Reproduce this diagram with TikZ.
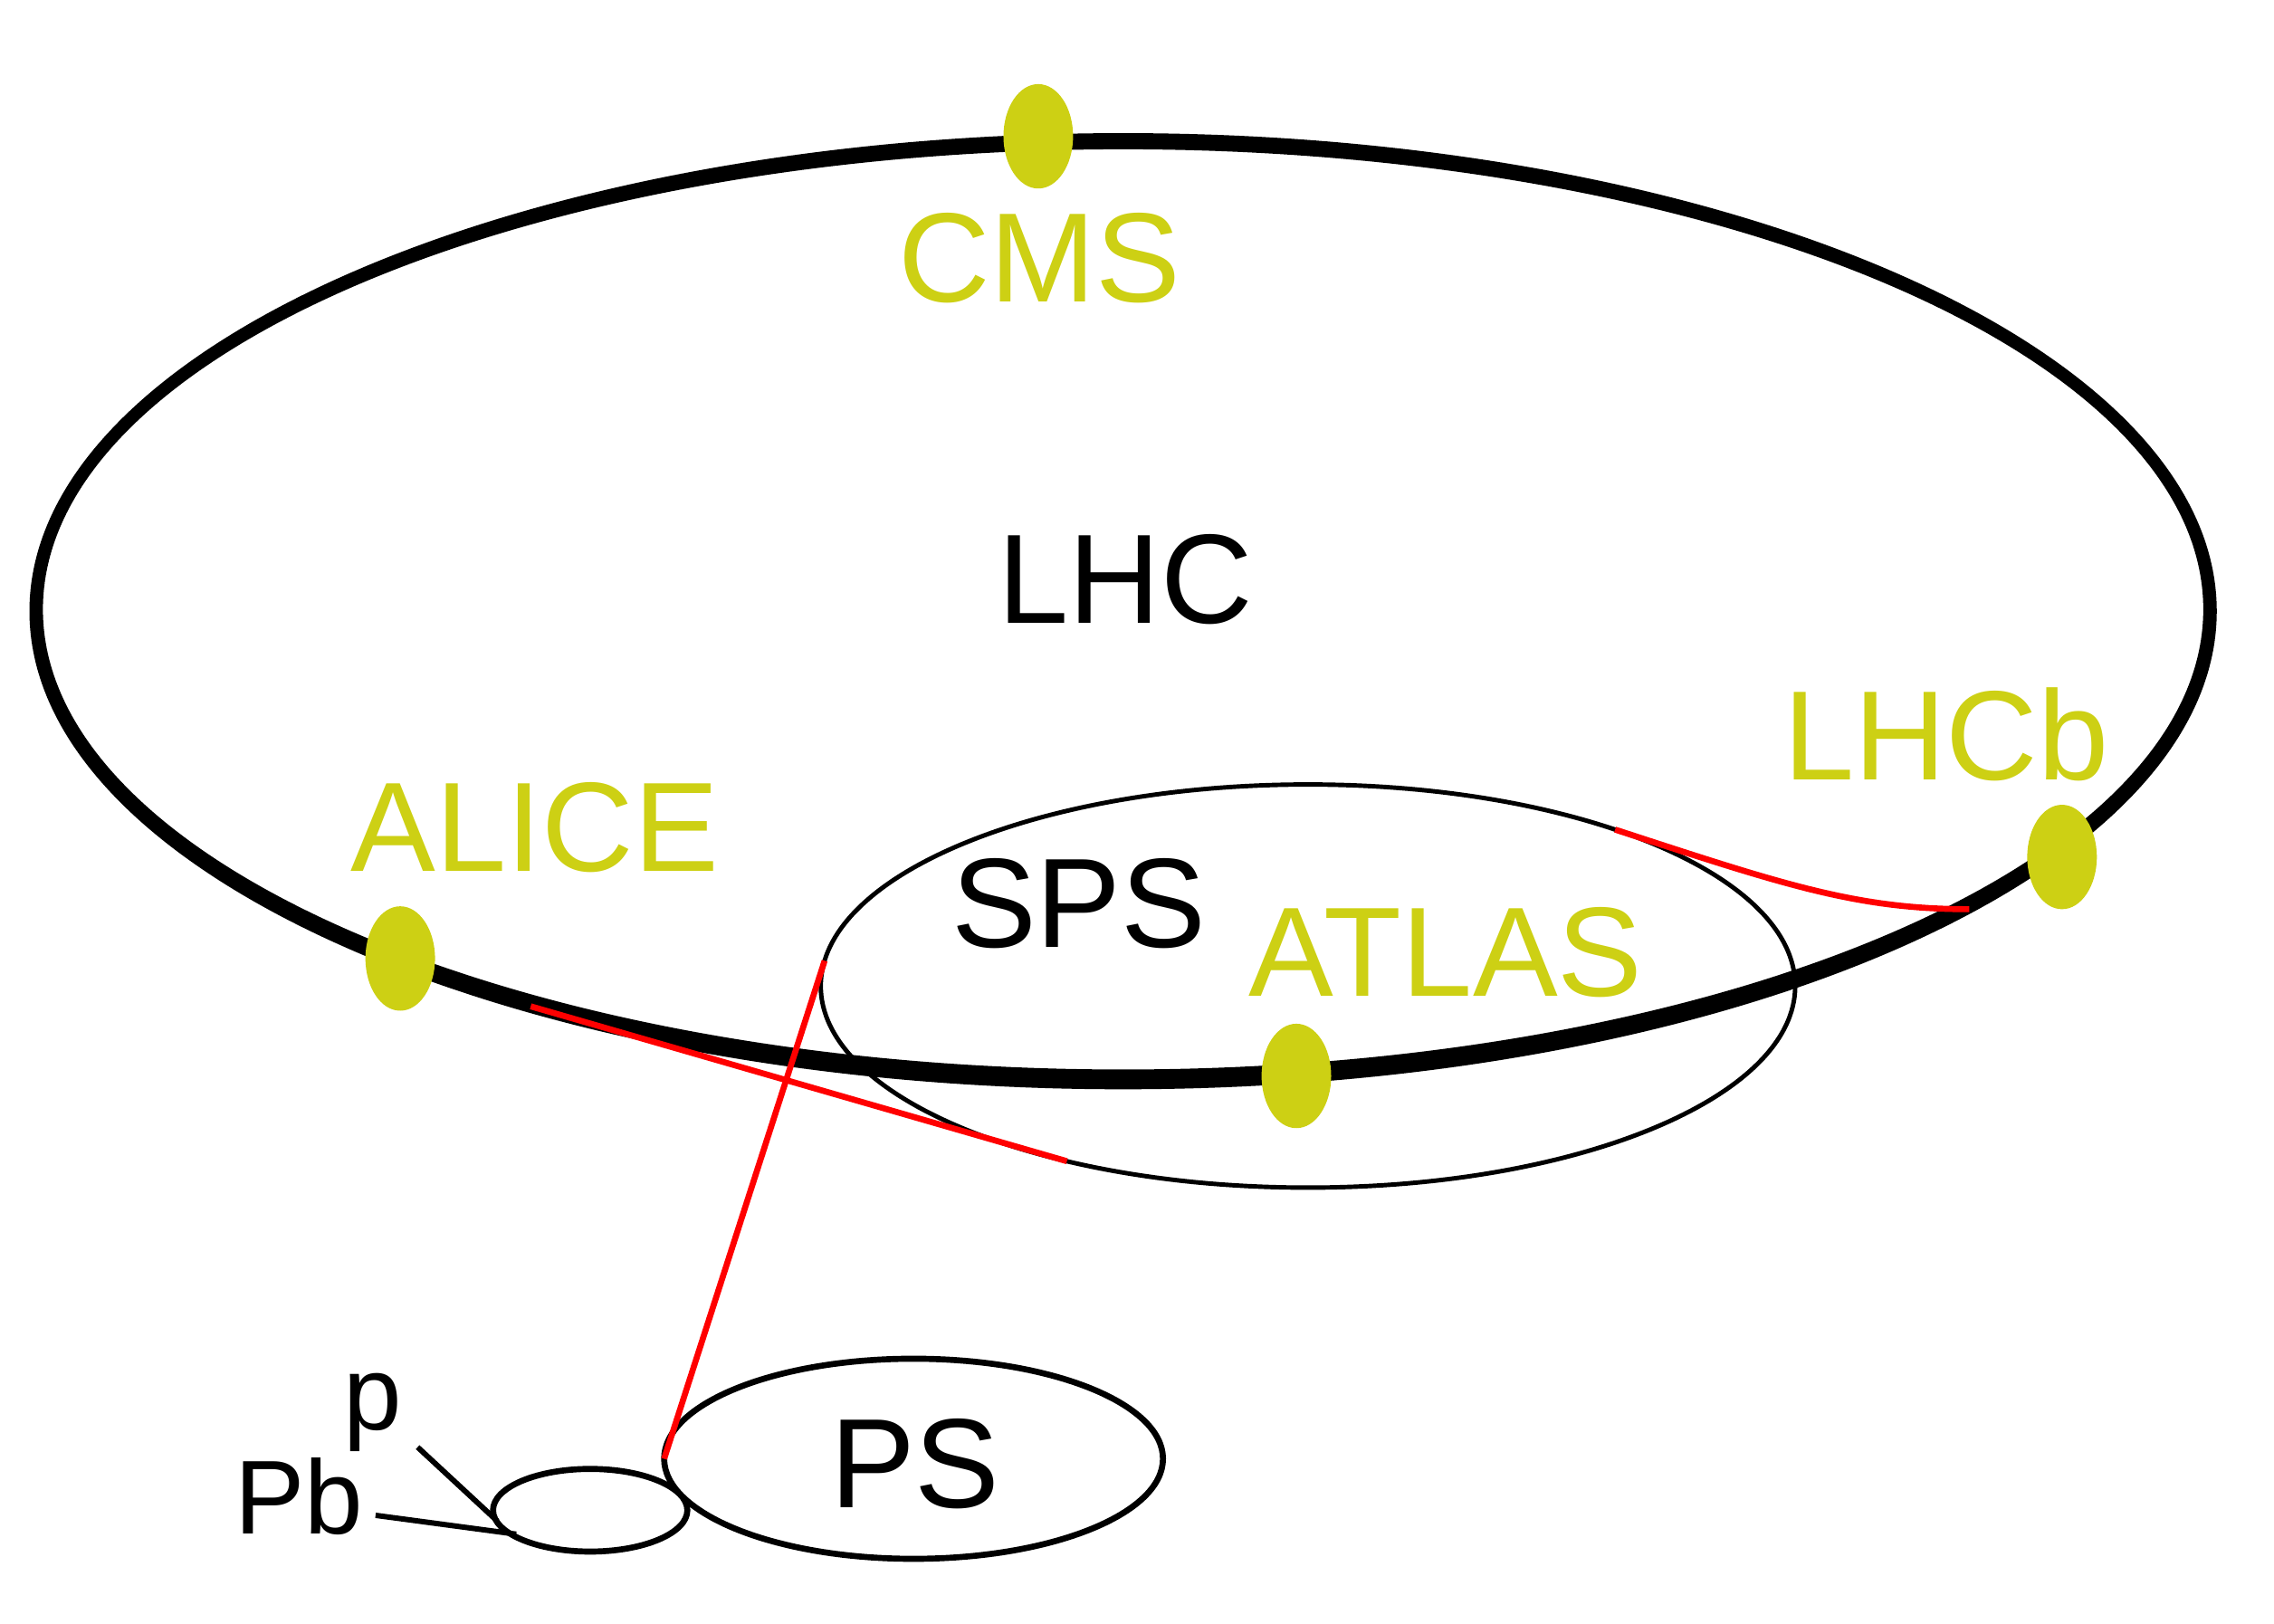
\documentclass[tikz,border=0pt]{standalone}
\usepackage{fontspec}
\setmainfont{Liberation Sans}
\usetikzlibrary{shapes.geometric,calc}
\definecolor{det}{RGB}{205,208,20}
\definecolor{beam}{RGB}{255,0,0}
\def\uu{0.016018cm}
\tikzset{
  ring/.style={draw=black, ellipse, inner sep=0pt, outer sep=0pt},
  dot/.style={fill=det, ellipse, inner sep=0pt, outer sep=0pt, minimum width={48*\uu}, minimum height={72*\uu}},
  bigtext/.style={font=\fontsize{40}{42}\selectfont, inner sep=0pt, anchor=base},
  dettext/.style={bigtext, text=det},
  smalltext/.style={font=\fontsize{33}{35}\selectfont, inner sep=0pt, anchor=base},
  beamline/.style={draw=beam, line width=1.9pt},
  feed/.style={draw=black, line width=1.7pt}
}
\begin{document}
\begin{tikzpicture}[x=0.016018cm, y=-0.016018cm]
\useasboundingbox (0,0) rectangle (1568.2,1119.4);
% LHC ring: thicker at the front (bottom) than at the back and the sides
\node[ellipse, inner sep=0pt, outer sep=0pt, minimum width={1499*\uu}, minimum height={647*\uu}] (lhc) at (774.5,421.5) {};
\fill[black, even odd rule] (lhc.center) ellipse [x radius=754.2, y radius=329.7]
  ($(lhc.center)+(0,-1.25)$) ellipse [x radius=744.9, y radius=317.3];
% other rings
\node[ring, line width=1.4pt, minimum width={672*\uu}, minimum height={278*\uu}] (sps) at (902,680) {};
\node[ring, line width=1.9pt, minimum width={344*\uu}, minimum height={138*\uu}] (ps) at (630,1006) {};
\node[ring, line width=1.9pt, minimum width={134*\uu}, minimum height={57*\uu}] (booster) at (407,1041.5) {};
% beam transfer lines
\coordinate (alicein) at (366,694);
\coordinate (lhcbin) at (1358,627);
\draw[beamline] (ps.west) -- (sps.177);
\draw[beamline] (alicein) -- (sps.216);
\draw[beamline] (sps.27) .. controls (1230,610) and (1280,627) .. (lhcbin);
% injection lines
\coordinate (pstart) at (288,998);
\coordinate (pbstart) at (259,1045);
\coordinate (pend) at (343,1049);
\coordinate (pbend) at (356,1058);
\draw[feed] (pstart) -- (pend);
\draw[feed] (pbstart) -- (pbend);
% detectors
\node[dot] (cms) at (716,94) {};
\node[dot] (alice) at (276,661) {};
\node[dot] (atlas) at (894,742) {};
\node[dot] (lhcb) at (1422,591) {};
% labels
\node[bigtext] (lhclabel) at (776,430) {LHC};
\node[bigtext] (spslabel) at (744,653) {SPS};
\node[bigtext] (pslabel) at (631,1040) {PS};
\node[dettext] (cmslabel) at (717,208) {CMS};
\node[dettext] (lhcblabel) at (1342,538) {LHCb};
\node[dettext] (alicelabel) at (369,601) {ALICE};
\node[dettext] (atlaslabel) at (997,687) {ATLAS};
\node[smalltext] (pblabel) at (206,1058) {Pb};
\node[smalltext] (plabel) at (257,986) {p};
\end{tikzpicture}
\end{document}
